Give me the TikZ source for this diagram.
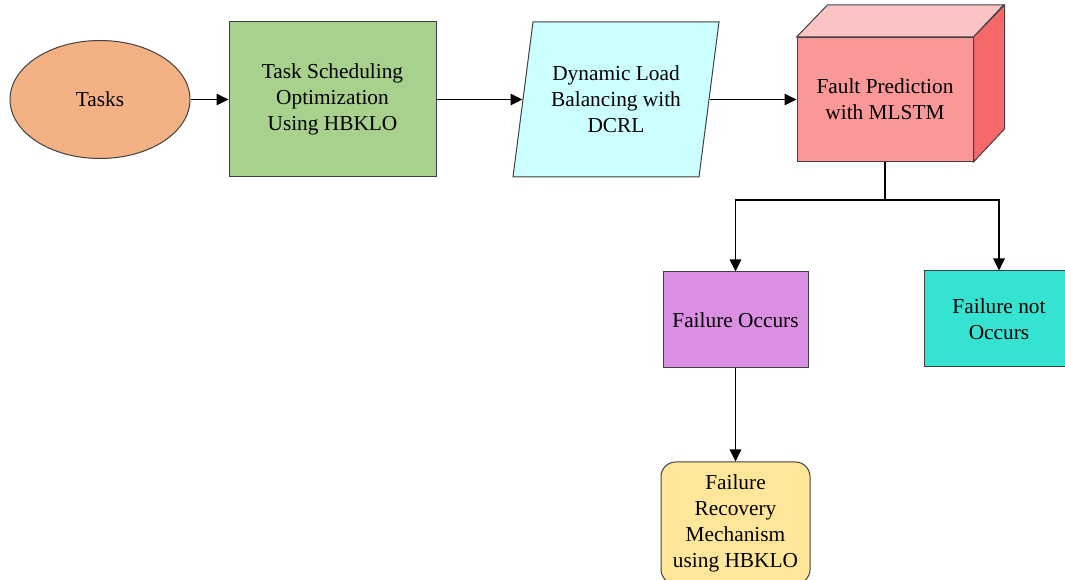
\documentclass[tikz,border=0pt]{standalone}
\usepackage{fontspec}
\setmainfont{Liberation Serif}
\newfontfamily\diagfont{Liberation Serif}
\usetikzlibrary{shapes.geometric,arrows.meta}

\tikzset{every picture/.style={line width=0.75pt}}
\tikzset{
  box/.style={draw={rgb,255:red,64;green,64;blue,64}, align=center, inner sep=0.75pt, font=\diagfont\fontsize{16}{19.5}\selectfont},
  link/.style={-{Triangle[length=9pt,width=8.5pt]}, line width=1.4pt},
}

\begin{document}
\begin{tikzpicture}[x=0.75pt,y=0.75pt,yscale=-1,xscale=1]
\useasboundingbox (0,0) rectangle (1065,580); %set diagram to 1065 x 580

%Shape: Ellipse [id:tasks]
\node [box, ellipse, fill={rgb,255:red,244;green,177;blue,131}, minimum width=135pt, minimum height=88.5pt] (tasks) at (100,99.5) {Tasks};
%Shape: Rectangle [id:tsched]
\node [box, fill={rgb,255:red,169;green,209;blue,142}, minimum width=155.25pt, minimum height=116.25pt] (tsched) at (332.5,99.5) {Task Scheduling\\Optimization\\Using HBKLO};
%Shape: Parallelogram [id:dlb]
\draw [draw={rgb,255:red,64;green,64;blue,64}, fill={rgb,255:red,204;green,255;blue,255}] (533,22) -- (719,22) -- (699,177) -- (513,177) -- cycle ;
\node [box, draw=none, minimum width=139.5pt, minimum height=116.25pt] (dlb) at (616,99.5) {Dynamic Load\\Balancing with\\DCRL};
%Shape: Cube [id:fault]
\node [box, fill={rgb,255:red,250;green,152;blue,152}, minimum width=132pt, minimum height=93pt] (fault) at (885,99.5) {Fault Prediction\\with MLSTM};
\draw [draw={rgb,255:red,64;green,64;blue,64}, fill={rgb,255:red,251;green,196;blue,196}] (fault.north west) -- ++(31,-32) -- ++(176,0) -- (fault.north east) -- cycle ;
\draw [draw={rgb,255:red,64;green,64;blue,64}, fill={rgb,255:red,247;green,104;blue,104}] (fault.north east) -- ++(31,-32) -- ++(0,124) -- (fault.south east) -- cycle ;
%Shape: Rectangle [id:occ]
\node [box, fill={rgb,255:red,218;green,143;blue,226}, minimum width=108.75pt, minimum height=72pt] (occ) at (735.5,320) {Failure Occurs};
%Shape: Rectangle [id:notocc]
\node [box, fill={rgb,255:red,53;green,227;blue,210}, minimum width=112.5pt, minimum height=72pt] (notocc) at (999,319) {Failure not\\Occurs};
%Shape: Rounded Rect [id:recov]
\node [box, rounded corners=11pt, fill={rgb,255:red,255;green,230;blue,153}, minimum width=111.75pt, minimum height=91.5pt] (recov) at (735.5,523) {Failure\\Recovery\\Mechanism\\using HBKLO};

%Straight Lines
\draw [link] (tasks.east) -- (tsched.west) ;
\draw [link] (tsched.east) -- (dlb.west) ;
\draw [link] (dlb.east) -- (fault.west) ;
\coordinate (split) at (885,200) ;
\draw [line width=1.4pt] (fault.south) -- (split) ;
\draw [link] (split) -| (occ.north) ;
\draw [link] (split) -| (notocc.north) ;
\draw [link] (occ.south) -- (recov.north) ;

\end{tikzpicture}
\end{document}
